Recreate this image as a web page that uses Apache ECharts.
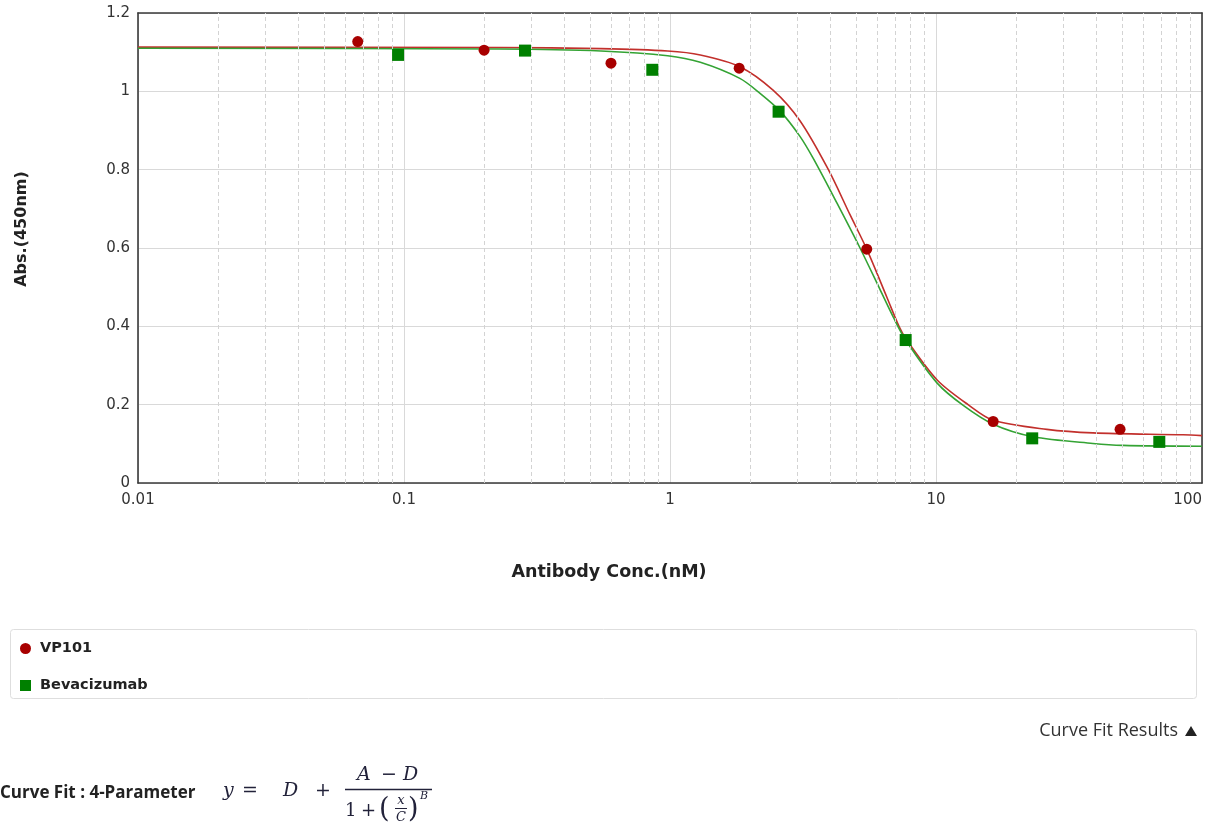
<!DOCTYPE html>
<html>
<head>
<meta charset="utf-8">
<script src="https://cdn.jsdelivr.net/npm/echarts@6/dist/echarts.min.js"></script>
<style>
  html, body { margin: 0; padding: 0; background: #ffffff; }
  #chart { width: 1222px; height: 840px; }
</style>
</head>
<body>
<div id="chart"></div>
<script>
// Measured absorbance at 450 nm for each antibody concentration (nM)
const vp101Conc = [0.067, 0.2, 0.6, 1.82, 5.49, 16.4, 49.2];
const vp101Abs  = [1.127, 1.105, 1.072, 1.059, 0.597, 0.157, 0.137];
const bevConc   = [0.095, 0.285, 0.858, 2.56, 7.69, 23.0, 69.1];
const bevAbs    = [1.093, 1.104, 1.055, 0.948, 0.365, 0.114, 0.105];

// 4-parameter fitted curves, sampled along the concentration axis
const vp101FitConc = [0.01, 0.23, 0.55, 0.98, 1.3, 1.83, 2.44, 3.08, 3.94, 4.75, 5.49, 6.53, 7.26, 7.76, 10.1, 13.2, 16.4, 26.1, 38.9, 84.9, 100];
const vp101FitAbs  = [1.113, 1.112, 1.109, 1.103, 1.093, 1.063, 1.003, 0.925, 0.800, 0.685, 0.597, 0.475, 0.400, 0.365, 0.263, 0.200, 0.160, 0.137, 0.128, 0.123, 0.121];
const bevFitConc   = [0.01, 0.23, 0.55, 0.98, 1.3, 1.83, 2.18, 2.59, 3.08, 3.46, 4.24, 5.18, 6.15, 6.95, 7.69, 10.1, 12.66, 16.4, 23.2, 38.9, 50.5, 100];
const bevFitAbs    = [1.110, 1.108, 1.103, 1.091, 1.074, 1.033, 0.995, 0.950, 0.885, 0.828, 0.715, 0.600, 0.495, 0.420, 0.365, 0.255, 0.198, 0.150, 0.118, 0.101, 0.096, 0.094];

// Axis ticks
const xTickLabels = ['0.01', '0.1', '1', '10', '100'];

// Minor vertical grid: 2..9 within each decade
const decadeStarts = [0.01, 0.1, 1, 10];
const minorSteps = [2, 3, 4, 5, 6, 7, 8, 9];
const minorGrid = [];
decadeStarts.forEach(d => minorSteps.forEach(m => minorGrid.push(+(d * m).toPrecision(3))));

const zip = (xs, ys) => xs.map((x, i) => [x, ys[i]]);

const SANS = 'DejaVu Sans';
const SERIF = 'DejaVu Serif';
const INK = '#22223a';
const frameLine = { show: true, onZero: false, lineStyle: { color: '#3a3a3a', width: 1.6 } };

const chart = echarts.init(document.getElementById('chart'), null, { renderer: 'canvas' });

function txt(x, y, text, style, extra) {
  return Object.assign({
    type: 'text', x: x, y: y, silent: true, z: 50,
    style: Object.assign({ text: text, fill: '#222', align: 'left', verticalAlign: 'middle' }, style)
  }, extra || {});
}
const math = (x, y, t, size, italic, align) =>
  txt(x, y, t, { fontFamily: SERIF, fontStyle: italic ? 'italic' : 'normal', fontSize: size, fill: INK, align: align || 'left' });

chart.setOption({
  animation: false,
  backgroundColor: '#ffffff',
  grid: { left: 138, right: 20, top: 13, bottom: 357, containLabel: false },
  xAxis: [{
    type: 'log', logBase: 10, min: 0.01, max: 100,
    axisLine: frameLine,
    axisTick: { show: false },
    axisLabel: {
      margin: 10, color: '#333', fontFamily: SANS, fontSize: 15,
      alignMaxLabel: 'right',
      formatter: (v, i) => xTickLabels[i]
    },
    splitLine: { show: true, lineStyle: { color: '#d9d9d9', width: 1 } }
  }, {
    type: 'log', logBase: 10, min: 0.01, max: 100, position: 'top',
    axisLine: frameLine, axisTick: { show: false }, axisLabel: { show: false }, splitLine: { show: false }
  }],
  yAxis: [{
    type: 'value', min: 0, max: 1.2, interval: 0.2,
    axisLine: frameLine,
    axisTick: { show: false },
    axisLabel: {
      margin: 8, color: '#333', fontFamily: SANS, fontSize: 15,
      formatter: v => String(+v.toFixed(1))
    },
    splitLine: { show: true, lineStyle: { color: '#d9d9d9', width: 1 } }
  }, {
    type: 'value', min: 0, max: 1.2, interval: 0.2, position: 'right',
    axisLine: frameLine, axisTick: { show: false }, axisLabel: { show: false }, splitLine: { show: false }
  }],
  legend: {
    orient: 'vertical', left: 20, top: 641, padding: 0,
    itemWidth: 11, itemHeight: 11, itemGap: 22,
    selectedMode: false,
    textStyle: { fontFamily: SANS, fontWeight: 'bold', fontSize: 14.5, color: '#222', padding: [0, 0, 0, 4] },
    data: [{ name: 'VP101', icon: 'circle' }, { name: 'Bevacizumab', icon: 'rect' }]
  },
  series: [
    {
      name: 'minor-grid', type: 'line', data: [], silent: true, z: 1,
      markLine: {
        silent: true, symbol: 'none', animation: false,
        label: { show: false },
        lineStyle: { color: '#d3d3d3', width: 1, type: [4, 3] },
        data: minorGrid.map(v => ({ xAxis: v }))
      }
    },
    {
      name: 'VP101 fit', type: 'line', smooth: 0.3, symbol: 'none', z: 3,
      lineStyle: { color: '#c2302c', width: 1.6 },
      data: zip(vp101FitConc, vp101FitAbs)
    },
    {
      name: 'Bevacizumab fit', type: 'line', smooth: 0.3, symbol: 'none', z: 3,
      lineStyle: { color: '#34a334', width: 1.6 },
      data: zip(bevFitConc, bevFitAbs)
    },
    {
      name: 'VP101', type: 'scatter', symbol: 'circle', symbolSize: 11, z: 5,
      itemStyle: { color: '#a80000', opacity: 1 },
      data: zip(vp101Conc, vp101Abs)
    },
    {
      name: 'Bevacizumab', type: 'scatter', symbol: 'rect', symbolSize: 12, z: 5,
      itemStyle: { color: '#008000', opacity: 1 },
      data: zip(bevConc, bevAbs)
    }
  ],
  graphic: [
    // axis titles
    txt(22, 229, 'Abs.(450nm)', { fontFamily: SANS, fontWeight: 'bold', fontSize: 16, align: 'center' }, { rotation: Math.PI / 2 }),
    txt(609, 572, 'Antibody Conc.(nM)', { fontFamily: SANS, fontWeight: 'bold', fontSize: 17.5, align: 'center' }),
    // legend panel
    { type: 'rect', silent: true, z: -1,
      shape: { x: 10.5, y: 629.5, width: 1186, height: 69, r: 3 },
      style: { fill: '#ffffff', stroke: '#dedede', lineWidth: 1 } },
    // curve fit results toggle
    txt(1178, 731, 'Curve Fit Results', { fontFamily: 'Open Sans', fontSize: 18, fill: '#333', align: 'right' }),
    { type: 'polygon', silent: true, z: 50,
      shape: { points: [[1185, 736], [1197, 736], [1191, 726]] }, style: { fill: '#222' } },
    // 4-parameter equation
    txt(0, 793, 'Curve Fit : 4-Parameter', { fontFamily: 'Open Sans', fontWeight: 'bold', fontSize: 17, fill: '#222' }),
    math(223, 791, 'y', 19, true),
    math(242, 791, '=', 19, false),
    math(283, 791, 'D', 19, true),
    math(315, 791, '+', 19, false),
    math(357, 775, 'A', 19, true),
    math(381, 775, '−', 19, false),
    math(403, 775, 'D', 19, true),
    { type: 'line', silent: true, z: 50, shape: { x1: 345, y1: 789.5, x2: 432, y2: 789.5 },
      style: { stroke: INK, lineWidth: 1.3 } },
    math(345, 811, '1', 18, false),
    math(361, 811, '+', 18, false),
    math(379, 810, '(', 27, false),
    math(401, 801, 'x', 13, true, 'center'),
    { type: 'line', silent: true, z: 50, shape: { x1: 395, y1: 808.5, x2: 407, y2: 808.5 },
      style: { stroke: INK, lineWidth: 1 } },
    math(401, 818, 'C', 13, true, 'center'),
    math(408, 810, ')', 27, false),
    math(420, 796, 'B', 11, true)
  ]
});
</script>
</body>
</html>
